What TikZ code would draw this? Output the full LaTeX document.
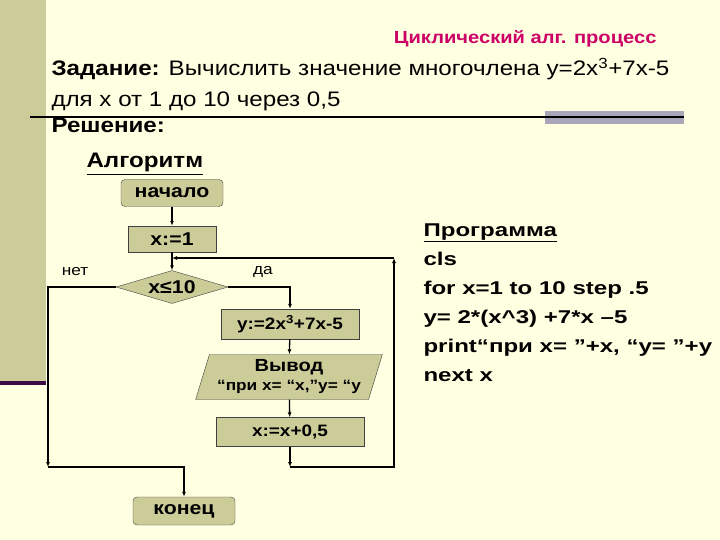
\documentclass[tikz,border=0pt]{standalone}
\usepackage{fontspec}
\setmainfont[FakeStretch=1.15]{Liberation Sans}
\newfontfamily\progfont[FakeStretch=1.3]{Liberation Sans}
\usetikzlibrary{positioning,shapes.geometric,arrows.meta}
\definecolor{paper}{RGB}{255,255,225}
\definecolor{olive}{RGB}{204,204,153}
\definecolor{titlered}{RGB}{204,0,102}
\definecolor{rulegray}{RGB}{170,166,186}
\definecolor{barpurple}{RGB}{60,10,70}

\begin{document}
\begin{tikzpicture}[
  x=1pt, y=-1pt,
  box/.style={draw=black!75, fill=olive, inner sep=0pt, align=center, font=\fontsize{18.5}{20}\selectfont\bfseries},
  term/.style={box, rounded corners=4pt},
  cond/.style={box, diamond, aspect=3.4},
  io/.style={box, trapezium, trapezium left angle=70, trapezium right angle=110, trapezium stretches=true},
  heading/.style={anchor=base west, font=\fontsize{21}{24}\selectfont},
  tag/.style={font=\fontsize{15}{17}\selectfont},
  flow/.style={-{Latex[length=5pt,width=4pt]}, line width=1.3pt},
]
% page
\useasboundingbox (0,0) rectangle (720,540);
\fill[paper] (0,0) rectangle (720,540);
\fill[olive] (0,0) rectangle (46,381);
\fill[barpurple] (0,381) rectangle (46,385);
\fill[rulegray] (545,111) rectangle (684,124);
\draw[line width=1.5pt] (30,117) -- (684,117);
% texts
\node[anchor=base east, text=titlered, font=\fontsize{17.5}{20}\selectfont\bfseries] (title) at (660,44) {Циклический алг. процесс};
\node[heading] (task) at (48,76) {\textbf{Задание:} Вычислить значение многочлена y=2x\textsuperscript{3}+7x-5};
\node[heading] (task2) at (48,107) {для x от 1 до 10 через 0,5};
\node[heading, font=\fontsize{21}{24}\selectfont\bfseries] (sol) at (48,133) {Решение:};
\node[heading, font=\fontsize{21}{24}\selectfont\bfseries] (alg) at (83,168) {\underline{Алгоритм}};
\node[anchor=base west, align=left, font=\progfont\fontsize{18.5}{29}\selectfont\bfseries] (prog) at (420,381)
  {\underline{Программа}\\cls\\for x=1 to 10 step .5\\y= 2*(x\textasciicircum3) +7*x –5\\print“при x= ”+x, “y= ”+y\\next x};
% flowchart
\node[term, minimum width=102pt, minimum height=27pt] (start) at (172,193) {начало};
\node[box, minimum width=88pt, minimum height=26pt] (init) at (172,239) {x:=1};
\node[cond, minimum width=112pt, minimum height=33pt] (test) at (172,287) {x≤10};
\node[box, minimum width=138pt, minimum height=30pt, font=\fontsize{16.5}{20}\selectfont\bfseries] (calc) at (290,324) {y:=2x\textsuperscript{3}+7x-5};
\node[io, minimum width=187pt, minimum height=45pt, font=\fontsize{15}{19}\selectfont\bfseries] (out) at (289,377)
  {{\fontsize{17.5}{19}\selectfont Вывод}\\“при x= “x,”y= “y};
\node[box, minimum width=148pt, minimum height=29pt, font=\fontsize{16.5}{20}\selectfont\bfseries] (inc) at (290,432) {x:=x+0,5};
\node[term, minimum width=102pt, minimum height=28pt] (stop) at (184,511) {конец};
\node[tag] (no) at (75,272) {нет};
\node[tag] (yes) at (263,272) {да};
\coordinate (merge) at (172,258);
\coordinate (ljoin) at (48,467);
\coordinate (rjoin) at (290,467);
\coordinate (rtop) at (394,258);
% connectors
\draw[flow] (start) -- (init);
\draw[flow] (init) -- (test);
\draw[flow] (test.west) -| (ljoin);
\draw[flow] (ljoin) -| (stop.north);
\draw[flow] (test.east) -| (calc.north);
\draw[flow] (calc) -- (out);
\draw[flow] (out) -- (inc);
\draw[flow] (inc) -- (rjoin);
\draw[flow] (rjoin) -| (rtop);
\draw[flow] (rtop) -- (merge);
\end{tikzpicture}
\end{document}
